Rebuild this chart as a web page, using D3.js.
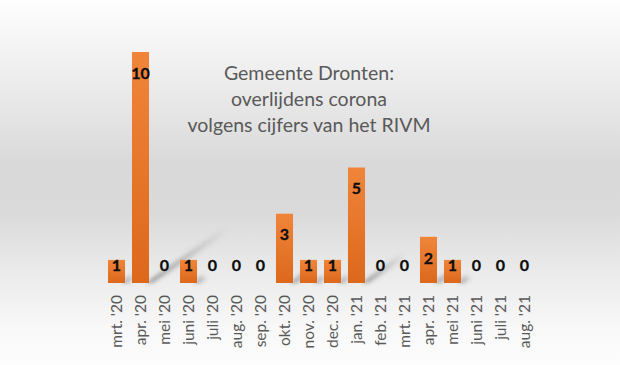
<!DOCTYPE html>
<html>
<head>
<meta charset="utf-8">
<script src="https://cdn.jsdelivr.net/npm/d3@7"></script>
<style>
  html, body { margin: 0; padding: 0; background: #fff; }
  svg { display: block; }
</style>
</head>
<body>
<svg width="620" height="365"></svg>
<script>
'use strict';

var months = ["mrt. '20", "apr. '20", "mei '20", "juni '20", "juli '20", "aug. '20",
  "sep. '20", "okt. '20", "nov. '20", "dec. '20", "jan. '21", "feb. '21",
  "mrt. '21", "apr. '21", "mei '21", "juni '21", "juli '21", "aug. '21"];
var deaths = [1, 10, 0, 1, 0, 0, 0, 3, 1, 1, 5, 0, 0, 2, 1, 0, 0, 0];
var titleLines = ["Gemeente Dronten:", "overlijdens corona", "volgens cijfers van het RIVM"];

var svg = d3.select('svg');
var width = +svg.attr('width');
var height = +svg.attr('height');

var defs = svg.append('defs');

var bg = defs.append('linearGradient')
  .attr('id', 'bg')
  .attr('x1', 0).attr('y1', 0).attr('x2', 0).attr('y2', 1);
[[0, '#fefefe'], [0.06, '#f9f9f9'], [0.3, '#e6e6e6'], [0.45, '#d9d9d9'],
 [0.58, '#dadada'], [0.75, '#ebebeb'], [0.9, '#f8f8f8'], [1, '#fdfdfd']]
  .forEach(function (s) {
    bg.append('stop').attr('offset', s[0]).attr('stop-color', s[1]);
  });

var barGrad = defs.append('linearGradient')
  .attr('id', 'bar')
  .attr('x1', 0).attr('y1', 0).attr('x2', 0).attr('y2', 1);
barGrad.append('stop').attr('offset', 0).attr('stop-color', '#f0853a');
barGrad.append('stop').attr('offset', 1).attr('stop-color', '#dc681c');

var shadowGrad = defs.append('linearGradient')
  .attr('id', 'shade')
  .attr('x1', 0).attr('y1', 1).attr('x2', 1).attr('y2', 0);
shadowGrad.append('stop').attr('offset', 0).attr('stop-color', '#444').attr('stop-opacity', 0.6);
shadowGrad.append('stop').attr('offset', 1).attr('stop-color', '#777').attr('stop-opacity', 0);

defs.append('filter').attr('id', 'blur')
  .attr('x', '-50%').attr('y', '-50%').attr('width', '200%').attr('height', '200%')
  .append('feGaussianBlur').attr('stdDeviation', 2.2);

svg.append('rect')
  .attr('width', width)
  .attr('height', height)
  .attr('fill', 'url(#bg)');

var x = d3.scaleBand()
  .domain(months)
  .range([104.5, 536.5])
  .paddingInner(0.29)
  .paddingOuter(0.145);

var y = d3.scaleLinear()
  .domain([0, 10])
  .range([283, 52]);

// perspective shadows falling behind the bars
svg.append('g')
  .selectAll('path')
  .data(months.filter(function (m, i) { return deaths[i] > 0; }))
  .enter()
  .append('path')
  .attr('fill', 'url(#shade)')
  .attr('filter', 'url(#blur)')
  .attr('d', function (m) {
    var v = deaths[months.indexOf(m)];
    var h = y(0) - y(v);
    var x0 = x(m) + x.bandwidth() - 3;
    var b = y(0);
    return 'M' + x0 + ',' + b +
      'L' + (x0 + 6) + ',' + b +
      'L' + (x0 + 6 + h * 0.33) + ',' + (b - h * 0.22) +
      'L' + (x0 + h * 0.33) + ',' + (b - h * 0.22 - 4) + 'Z';
  });

svg.append('g')
  .selectAll('rect')
  .data(months)
  .enter()
  .append('rect')
  .attr('x', function (d) { return x(d); })
  .attr('width', x.bandwidth())
  .attr('y', function (d, i) { return y(deaths[i]); })
  .attr('height', function (d, i) { return y(0) - y(deaths[i]); })
  .attr('fill', 'url(#bar)');

svg.append('g')
  .selectAll('text')
  .data(months)
  .enter()
  .append('text')
  .attr('x', function (d) { return x(d) + x.bandwidth() / 2; })
  .attr('y', function (d, i) { return Math.min(y(deaths[i]) + 21, y(0) - 18); })
  .attr('dy', '0.36em')
  .attr('text-anchor', 'middle')
  .attr('font-family', 'Lato, "Open Sans", sans-serif')
  .attr('font-weight', 'bold')
  .attr('font-size', 16)
  .attr('fill', '#0d0d0d')
  .attr('stroke', '#0d0d0d')
  .attr('stroke-width', 0.3)
  .text(function (d, i) { return deaths[i]; });

var xAxis = svg.append('g')
  .attr('transform', 'translate(0,' + y(0) + ')')
  .call(d3.axisBottom(x).tickSize(0).tickPadding(0));
xAxis.select('.domain').remove();
xAxis.selectAll('text')
  .attr('transform', 'translate(0,12) rotate(-90)')
  .attr('x', 0)
  .attr('y', 0)
  .attr('dy', '0.35em')
  .attr('text-anchor', 'end')
  .attr('font-family', 'Lato, "Open Sans", sans-serif')
  .attr('font-size', 15.5)
  .attr('fill', '#595959');

svg.append('g')
  .selectAll('text')
  .data(titleLines)
  .enter()
  .append('text')
  .attr('x', 309)
  .attr('y', function (d, i) { return 73 + i * 26; })
  .attr('dy', '0.35em')
  .attr('text-anchor', 'middle')
  .attr('font-family', 'Lato, "Open Sans", sans-serif')
  .attr('font-size', 19.5)
  .attr('fill', '#595959')
  .text(function (d) { return d; });
</script>
</body>
</html>
